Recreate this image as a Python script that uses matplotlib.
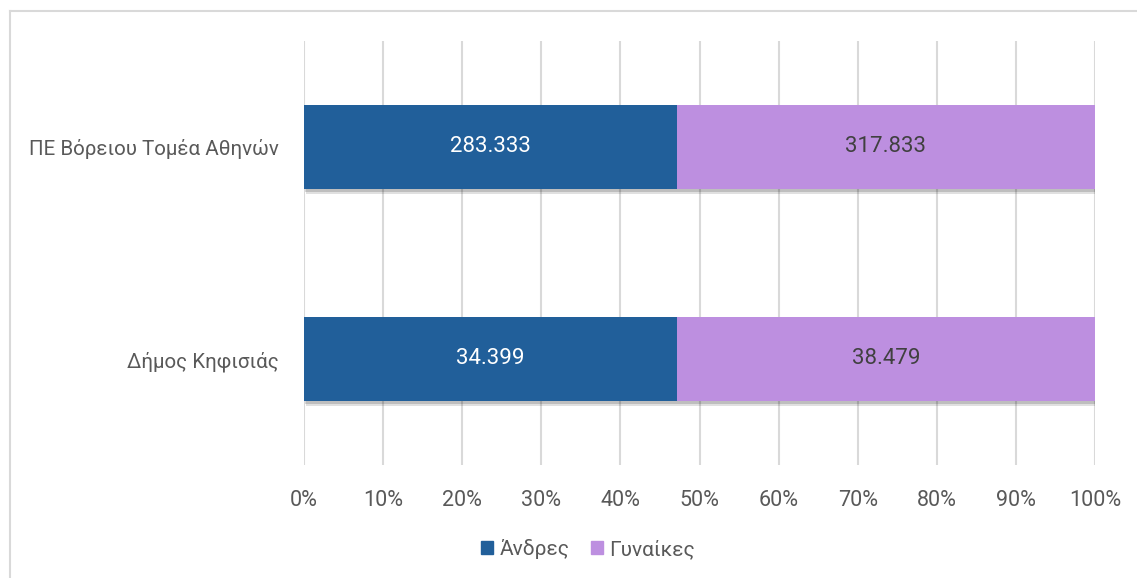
import matplotlib
matplotlib.use("Agg")
import matplotlib.pyplot as plt
import matplotlib.patheffects as pe
from matplotlib.patches import Rectangle
import numpy as np

categories = ["Δήμος Κηφισιάς", "ΠΕ Βόρειου Τομέα Αθηνών"]
men = [34399, 283333]
women = [38479, 317833]
series_names = ["Άνδρες", "Γυναίκες"]
colors = ["#215F9A", "#BD8FE0"]
label_colors = ["white", "#404040"]
xticks = [0, 10, 20, 30, 40, 50, 60, 70, 80, 90, 100]

plt.rcParams['font.family'] = ['Roboto', 'DejaVu Sans']

W, H = 1137, 578
fig = plt.figure(figsize=(W / 100, H / 100), dpi=100)
ax = fig.add_axes([304 / W, 1 - 465 / H, (1095 - 304) / W, (465 - 41) / H])

men_a = np.array(men, float)
women_a = np.array(women, float)
tot = men_a + women_a
pm = men_a / tot * 100
pw = women_a / tot * 100
y = np.arange(len(categories))
h = 0.40

shadow = [pe.SimplePatchShadow(offset=(1.5, -3), shadow_rgbFace="#000000", alpha=0.12),
          pe.SimplePatchShadow(offset=(0.8, -1.8), shadow_rgbFace="#000000", alpha=0.15),
          pe.Normal()]
b1 = ax.barh(y, pm, height=h, color=colors[0], label=series_names[0], zorder=3)
b2 = ax.barh(y, pw, left=pm, height=h, color=colors[1], label=series_names[1], zorder=3)
for b in list(b1) + list(b2):
    b.set_path_effects(shadow)

def fmt(v):
    return f"{int(v):,}".replace(",", ".")

for i in range(len(categories)):
    ax.text(pm[i] / 2, y[i], fmt(men[i]), ha="center", va="center",
            color=label_colors[0], fontsize=16, zorder=5)
    ax.text(pm[i] + pw[i] / 2, y[i], fmt(women[i]), ha="center", va="center",
            color=label_colors[1], fontsize=16, zorder=5)

ax.set_xlim(0, 100)
ax.set_ylim(-0.5, 1.5)
ax.set_xticks(xticks)
ax.set_xticklabels([f"{t}%" for t in xticks])
ax.set_yticks(y)
ax.set_yticklabels(categories)
ax.tick_params(axis="both", length=0, colors="#595959")
ax.tick_params(axis="x", pad=18, labelsize=15.5)
ax.tick_params(axis="y", pad=18, labelsize=14.8)
ax.grid(axis="x", color="#D9D9D9", linewidth=1.5, zorder=0)
for s in ax.spines.values():
    s.set_visible(False)

leg = fig.legend(handles=[Rectangle((0, 0), 1, 1, color=c) for c in colors],
                 labels=series_names, loc="center", bbox_to_anchor=(588 / W, 1 - 549 / H),
                 ncol=2, frameon=False, fontsize=15, handlelength=0.6, handleheight=0.6,
                 handletextpad=0.3, columnspacing=1.0)
for t in leg.get_texts():
    t.set_color("#595959")

# outer border (top and left visible)
fig.add_artist(plt.Line2D([10 / W, 1.0], [1 - 11 / H, 1 - 11 / H], color="#D9D9D9", lw=1.5))
fig.add_artist(plt.Line2D([10 / W, 10 / W], [0, 1 - 11 / H], color="#D9D9D9", lw=1.5))

fig.savefig("out.png", dpi=100)
